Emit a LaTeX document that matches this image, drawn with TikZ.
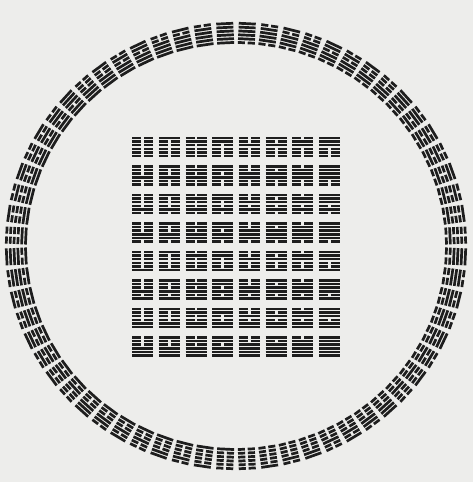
\documentclass[tikz,border=0pt]{standalone}
\usepackage{tikz}

\definecolor{paper}{HTML}{EDEDEB}
\definecolor{ink}{HTML}{1E1E1E}

% one hexagram, centred at the origin, lines counted from the bottom
% #1 number in the Fu Xi order, #2 width, #3 span of the six lines, #4 gap
\newcommand{\guaLines}[4]{%
  \foreach \l in {1,...,6}{
    \pgfmathtruncatemacro{\yin}{mod(floor(#1/2^(6-\l)),2)}
    \pgfmathsetmacro{\ly}{-#3/2+(\l-1)*#3/5}
    \ifnum\yin=0
      \draw[yao] (-#2/2,\ly) -- (#2/2,\ly);
    \else
      \draw[yao] (-#2/2,\ly) -- (-#4/2,\ly) (#4/2,\ly) -- (#2/2,\ly);
    \fi
  }}

\begin{document}
\begin{tikzpicture}[x=1pt,y=1pt,
ring/.style={yao/.style={line width=2.7pt,draw=ink}},
square/.style={yao/.style={line width=2.5pt,draw=ink}}]

\fill[paper] (0,0) rectangle (473,482);

% circle, left half: Qian down to Fu
\foreach \n in {0,...,31}{
  \pgfmathsetmacro{\ang}{92.8125+5.625*\n}
  \begin{scope}[ring,shift={({236+220*cos(\ang)},{236+213*sin(\ang)})},rotate=\ang-90]
    \guaLines{\n}{17}{19.2}{2.8}
  \end{scope}}

% circle, right half: Gou down to Kun
\foreach \n in {32,...,63}{
  \pgfmathsetmacro{\ang}{87.1875-5.625*(\n-32)}
  \begin{scope}[ring,shift={({236+220*cos(\ang)},{236+213*sin(\ang)})},rotate=\ang-90]
    \guaLines{\n}{17}{19.2}{2.8}
  \end{scope}}

% square: row from the bottom = lower trigram, column from the right = upper trigram
\foreach \r in {0,...,7}{
  \foreach \c in {0,...,7}{
    \pgfmathtruncatemacro{\n}{8*\r+\c}
    \begin{scope}[square,shift={({329.5-26.7*\c},{135.5+28.5*\r})}]
      \guaLines{\n}{21}{17.6}{2.8}
    \end{scope}}}

\end{tikzpicture}
\end{document}
